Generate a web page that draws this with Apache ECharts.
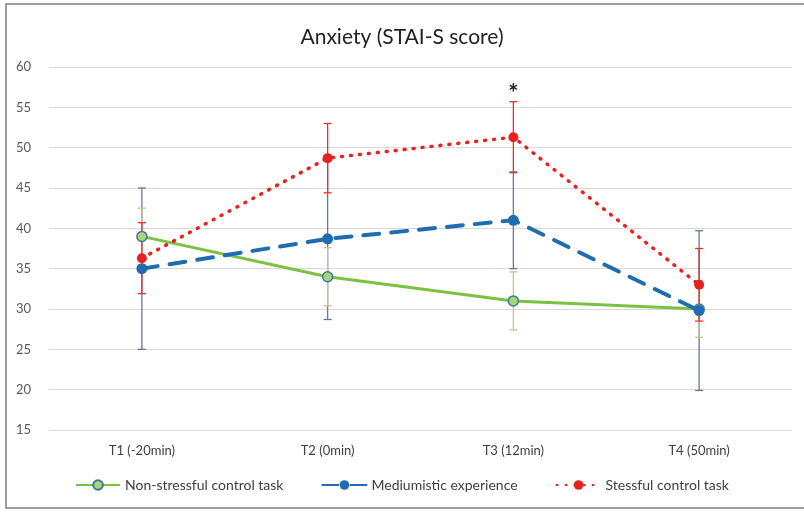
<!DOCTYPE html>
<html>
<head>
<meta charset="utf-8">
<script src="https://cdn.jsdelivr.net/npm/echarts@6/dist/echarts.min.js"></script>
<style>
  html, body { margin: 0; padding: 0; background: #fff; }
  #chartmain { width: 804px; height: 512px; }
</style>
</head>
<body>
<div id="chartmain"></div>
<script>
// categories and values
var categories = ['T1 (-20min)', 'T2 (0min)', 'T3 (12min)', 'T4 (50min)'];
var yTicks = [15, 20, 25, 30, 35, 40, 45, 50, 55, 60];

var nonStress = [39, 34, 31, 30];
var nonStressErr = [3.5, 3.6, 3.6, 3.5];

var mediumistic = [35, 38.7, 41, 29.8];
var mediumisticErr = [10, 10, 6, 9.9];

var stressful = [36.3, 48.7, 51.3, 33];
var stressfulErr = [4.4, 4.3, 4.4, 4.5];

var starLabel = '*';
var starAt = [categories[2], 56.6];

var font = 'Lato, "Open Sans", sans-serif';

function errData(vals, errs) {
  return vals.map(function (v, i) { return [i, v - errs[i], v + errs[i]]; });
}

// vertical error bar with small caps
function errBar(color) {
  return function (params, api) {
    var x = api.value(0);
    var lo = api.coord([x, api.value(1)]);
    var hi = api.coord([x, api.value(2)]);
    var w = 4;
    var st = { stroke: color, lineWidth: 1.3 };
    return {
      type: 'group',
      children: [
        { type: 'line', shape: { x1: hi[0], y1: hi[1], x2: lo[0], y2: lo[1] }, style: st },
        { type: 'line', shape: { x1: hi[0] - w, y1: hi[1], x2: hi[0] + w, y2: hi[1] }, style: st },
        { type: 'line', shape: { x1: lo[0] - w, y1: lo[1], x2: lo[0] + w, y2: lo[1] }, style: st }
      ]
    };
  };
}

var myChart = echarts.init(document.getElementById('chartmain'));
myChart.setOption({
  animation: false,
  backgroundColor: '#fff',
  graphic: [{
    type: 'rect',
    shape: { x: 6, y: 4, width: 820, height: 504 },
    style: { fill: 'none', stroke: '#7f7f7f', lineWidth: 1.5 },
    silent: true
  }],
  title: {
    text: 'Anxiety (STAI-S score)',
    left: 'center',
    top: 22,
    textStyle: { fontFamily: font, fontSize: 21, fontWeight: 'normal', color: '#222' }
  },
  grid: { left: 49, right: 12, top: 67, bottom: 82 },
  legend: {
    bottom: 15,
    left: 'center',
    itemGap: 38,
    itemWidth: 44,
    itemHeight: 12,
    textStyle: { fontFamily: font, fontSize: 14, color: '#404040' },
    data: ['Non-stressful control task', 'Mediumistic experience', 'Stessful control task']
  },
  xAxis: {
    type: 'category',
    data: categories,
    boundaryGap: true,
    axisLine: { show: false },
    axisTick: { show: false },
    axisLabel: { fontFamily: font, fontSize: 13, color: '#404040', margin: 14 }
  },
  yAxis: {
    type: 'value',
    min: yTicks[0],
    max: yTicks[yTicks.length - 1],
    interval: 5,
    axisLine: { show: false },
    axisTick: { show: false },
    splitLine: { lineStyle: { color: '#d9d9d9' } },
    axisLabel: { fontFamily: font, fontSize: 13, color: '#595959', margin: 18 }
  },
  series: [
    {
      name: 'mediumisticErr',
      type: 'custom',
      renderItem: errBar('#5d7d94'),
      data: errData(mediumistic, mediumisticErr),
      encode: { x: 0, y: [1, 2] },
      z: 1
    },
    {
      name: 'nonStressErr',
      type: 'custom',
      renderItem: errBar('#c9c48a'),
      data: errData(nonStress, nonStressErr),
      encode: { x: 0, y: [1, 2] },
      z: 1
    },
    {
      name: 'stressfulErr',
      type: 'custom',
      renderItem: errBar('#e8302a'),
      data: errData(stressful, stressfulErr),
      encode: { x: 0, y: [1, 2] },
      z: 1
    },
    {
      name: 'Non-stressful control task',
      type: 'line',
      data: nonStress,
      symbol: 'circle',
      symbolSize: 10,
      color: '#7cc242',
      lineStyle: { color: '#7cc242', width: 3 },
      itemStyle: { color: '#a6d47c', borderColor: '#3f7896', borderWidth: 1.5 },
      z: 3
    },
    {
      name: 'Mediumistic experience',
      type: 'line',
      data: mediumistic,
      symbol: 'circle',
      symbolSize: 11,
      color: '#1f6cb0',
      lineStyle: { color: '#1f6cb0', width: 4, type: [16, 12], cap: 'round' },
      itemStyle: { color: '#1f6cb0' },
      z: 4
    },
    {
      name: 'Stessful control task',
      type: 'line',
      data: stressful,
      symbol: 'circle',
      symbolSize: 10,
      color: '#e8201f',
      lineStyle: { color: '#e8201f', width: 3.5, type: [1, 8], cap: 'round' },
      itemStyle: { color: '#e8201f' },
      markPoint: {
        symbol: 'circle',
        symbolSize: 1,
        itemStyle: { color: 'transparent' },
        label: { show: true, position: 'inside', formatter: starLabel, fontSize: 24, fontWeight: 'bold', color: '#222', fontFamily: font },
        data: [{ coord: starAt }]
      },
      z: 5
    }
  ]
});
</script>
</body>
</html>
